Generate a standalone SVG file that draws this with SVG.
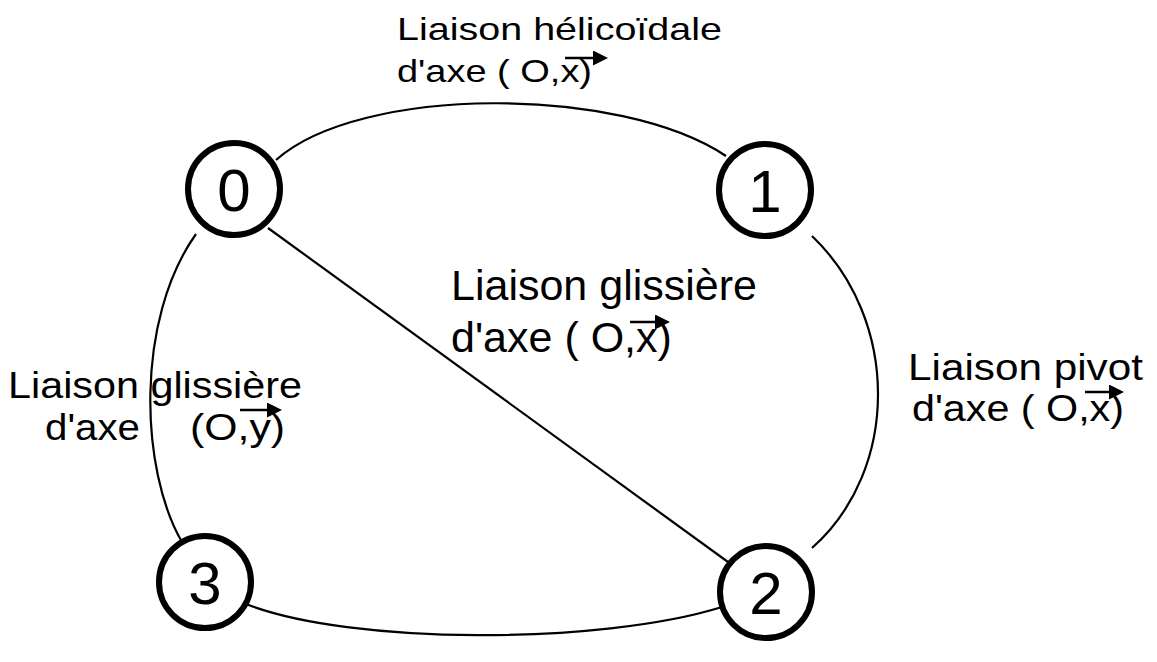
<svg xmlns="http://www.w3.org/2000/svg" width="1157" height="662" viewBox="0 0 1157 662">
<style>
.node circle{fill:#fff;stroke:#000;stroke-width:6}
.node text{font-family:"Liberation Sans",Arial,sans-serif;font-size:60px;text-anchor:middle;fill:#000}
.conn path,.conn line{fill:none;stroke:#000;stroke-width:2.2}
.lbl{font-family:"Liberation Sans",Arial,sans-serif;fill:#000}
.vec{stroke:#000;stroke-width:2.5;fill:none;marker-end:url(#ah)}
</style>
<defs>
<marker id="ah" viewBox="0 0 10 10" refX="2" refY="5" markerWidth="6" markerHeight="6" orient="auto" markerUnits="strokeWidth">
<path d="M0,0 L10,5 L0,10 Z" fill="#000"/>
</marker>
</defs>
<rect width="1157" height="662" fill="#fff"/>
<g id="connectors" class="conn">
<path d="M276,160 C360,85 620,85 726,156"/>
<path d="M812,236 C900,320 900,470 812,548"/>
<line x1="268" y1="228" x2="728" y2="562"/>
<path d="M196,234 C135,320 140,470 182,542"/>
<path d="M246,604 C350,645 600,645 722,607"/>
</g>
<g id="node0" class="node"><circle cx="234" cy="189" r="46"/><text x="234" y="211">0</text></g>
<g id="node1" class="node"><circle cx="765" cy="190" r="46"/><text x="765" y="212">1</text></g>
<g id="node2" class="node"><circle cx="766" cy="592" r="46"/><text x="766" y="614">2</text></g>
<g id="node3" class="node"><circle cx="205" cy="582" r="46"/><text x="205" y="604">3</text></g>
<g id="label-top" class="lbl">
<text x="397" y="40" font-size="32" textLength="325" lengthAdjust="spacingAndGlyphs">Liaison hélicoïdale</text>
<text x="397" y="82" font-size="32" textLength="195" lengthAdjust="spacingAndGlyphs">d'axe ( O,x)</text>
<path class="vec" d="M565,58 L596,58"/>
</g>
<g id="label-center" class="lbl" font-size="43">
<text x="451" y="300">Liaison glissière</text>
<text x="451" y="352">d'axe ( O,x)</text>
<path class="vec" d="M630,322 L658,322"/>
</g>
<g id="label-right" class="lbl" font-size="36">
<text x="908" y="380" textLength="235" lengthAdjust="spacingAndGlyphs">Liaison pivot</text>
<text x="912" y="421" textLength="212" lengthAdjust="spacingAndGlyphs">d'axe ( O,x)</text>
<path class="vec" d="M1085,392 L1112,392"/>
</g>
<g id="label-left" class="lbl" font-size="36">
<text x="8" y="398" textLength="294" lengthAdjust="spacingAndGlyphs">Liaison glissière</text>
<text x="45" y="440" textLength="95" lengthAdjust="spacingAndGlyphs">d'axe</text>
<text x="190" y="440" textLength="95" lengthAdjust="spacingAndGlyphs">(O,y)</text>
<path class="vec" d="M240,410 L270,410"/>
</g>
</svg>
